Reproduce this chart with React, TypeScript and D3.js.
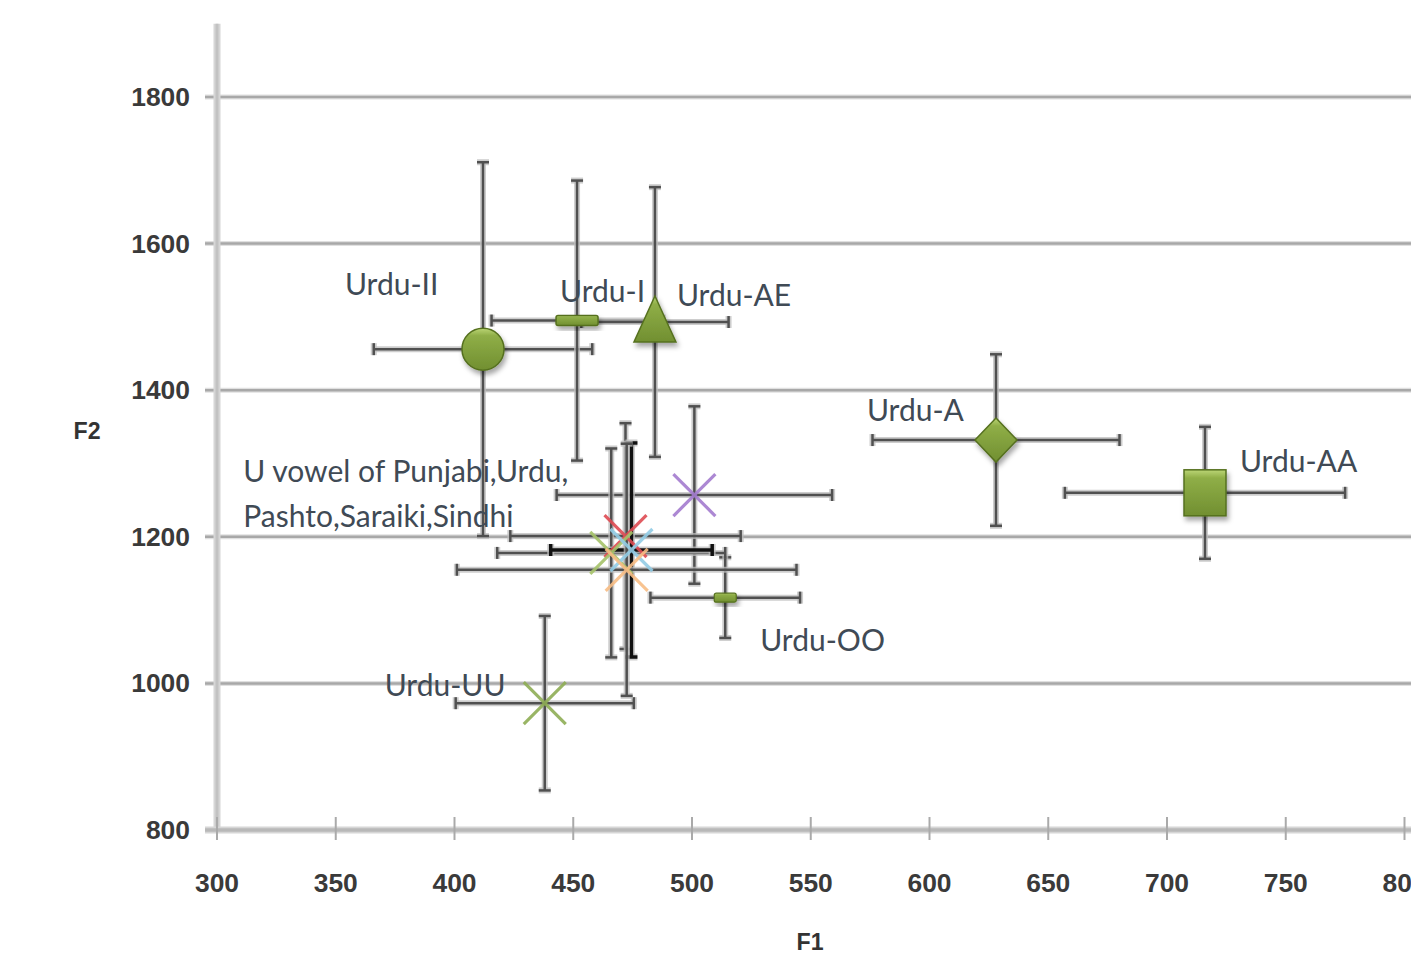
import * as d3 from "d3";

// F1 / F2 means with standard deviations
const seriesIds = ["II", "I", "AE", "A", "AA", "OO", "UU", "purple", "red", "green", "blue", "orange"];
const f1Values = [412, 451.6, 484.4, 628, 716, 514, 438, 501, 472, 466, 474.5, 472.5];
const f2Values = [1456, 1495, 1493, 1332, 1260, 1117, 973, 1257, 1201, 1178, 1182, 1155];
const f1Errors = [46, 36, 31, 52, 59, 31.5, 37.5, 58, 48.5, 48, 34, 71.5];
const f2Errors = [255, 191, 184, 117, 90, 55, 119, 121, 154, 142.5, 146, 172];
const pointLabels = ["Urdu-II", "Urdu-I", "Urdu-AE", "Urdu-A", "Urdu-AA", "Urdu-OO", "Urdu-UU", "", "", "", "", ""];

const clusterLabel = ["U vowel of Punjabi,Urdu,", "Pashto,Saraiki,Sindhi"];

const xTicks = [300, 350, 400, 450, 500, 550, 600, 650, 700, 750, 800];
const yTicks = [800, 1000, 1200, 1400, 1600, 1800];

// marker look per series
const styles = {
  II: { shape: "circle", labelDx: -138, labelDy: -54 },
  I: { shape: "dash", labelDx: -17, labelDy: -19 },
  AE: { shape: "triangle", labelDx: 22, labelDy: -16 },
  A: { shape: "diamond", labelDx: -129, labelDy: -19 },
  AA: { shape: "square", labelDx: 35, labelDy: -21 },
  OO: { shape: "smalldash", labelDx: 35, labelDy: 53 },
  UU: { shape: "x", color: "#8fae55", labelDx: -160, labelDy: -7 },
  purple: { shape: "x", color: "#a47bcf" },
  red: { shape: "x", color: "#de4b52" },
  green: { shape: "x", color: "#a6c36a" },
  blue: { shape: "x", color: "#93cde6", barColor: "#111", barWidth: 3.5 },
  orange: { shape: "x", color: "#f8bd85" },
};

const W = 1411;
const H = 954;
const font = "'Liberation Sans', Arial, sans-serif";
const labelFont = "Lato, 'Open Sans', sans-serif";
const digitWidth = 14.7;

const x = d3.scaleLinear().domain([300, 800]).range([217, 1404.5]);
const y = d3.scaleLinear().domain([800, 1900]).range([830, 23.7]);

const Marker = ({ shape, color }) => {
  const fill = "url(#greenGrad)";
  const stroke = "#55701f";
  if (shape === "circle")
    return <circle r={21} fill={fill} stroke={stroke} strokeWidth={1.5} filter="url(#shadow)" />;
  if (shape === "dash")
    return <rect x={-21} y={-5} width={42} height={10} rx={2} fill={fill} stroke={stroke} strokeWidth={1.5} filter="url(#shadow)" />;
  if (shape === "smalldash")
    return <rect x={-11} y={-4.5} width={22} height={9} rx={2} fill={fill} stroke={stroke} strokeWidth={1.2} filter="url(#shadow)" />;
  if (shape === "triangle")
    return <polygon points="0,-26 21,20 -21,20" fill={fill} stroke={stroke} strokeWidth={1.5} filter="url(#shadow)" />;
  if (shape === "diamond")
    return <polygon points="0,-22 21,0 0,22 -21,0" fill={fill} stroke={stroke} strokeWidth={1.5} filter="url(#shadow)" />;
  if (shape === "square")
    return <rect x={-21} y={-23} width={42} height={46} fill={fill} stroke={stroke} strokeWidth={1.5} filter="url(#shadow)" />;
  const s = 21;
  return (
    <g stroke={color} strokeWidth={3.2} opacity={0.9} filter="url(#blur)">
      <line x1={-s} y1={-s} x2={s} y2={s} />
      <line x1={-s} y1={s} x2={s} y2={-s} />
    </g>
  );
};

const ErrorBars = ({ cx, cy, ex, ey, color = "#505050", width = 2.5 }) => {
  const x0 = x(cx - ex), x1 = x(cx + ex);
  const y0 = y(cy + ey), y1 = y(cy - ey);
  const px = x(cx), py = y(cy);
  const segs = [
    [x0, py, x1, py],
    [x0, py - 6, x0, py + 6],
    [x1, py - 6, x1, py + 6],
    [px, y0, px, y1],
    [px - 6, y0, px + 6, y0],
    [px - 6, y1, px + 6, y1],
  ];
  return (
    <g>
      {segs.map((s, i) => (
        <line key={"h" + i} x1={s[0]} y1={s[1]} x2={s[2]} y2={s[3]} stroke="#bdbdbd" strokeWidth={width + 3.5} opacity={0.75} />
      ))}
      {segs.map((s, i) => (
        <line key={"d" + i} x1={s[0]} y1={s[1]} x2={s[2]} y2={s[3]} stroke={color} strokeWidth={width} />
      ))}
    </g>
  );
};

export default function App() {
  const greenIdx = seriesIds.indexOf("green");
  return (
    <div style={{ position: "fixed", left: 0, top: 0, width: W, height: H, background: "#fff", overflow: "hidden" }}>
      <svg width={W} height={H}>
        <defs>
          <linearGradient id="greenGrad" x1="0" y1="0" x2="0" y2="1">
            <stop offset="0" stopColor="#bcd676" />
            <stop offset="0.18" stopColor="#8fae47" />
            <stop offset="1" stopColor="#718f31" />
          </linearGradient>
          <filter id="shadow" x="-50%" y="-50%" width="200%" height="200%">
            <feDropShadow dx={2} dy={4} stdDeviation={2.5} floodColor="#000" floodOpacity={0.35} />
          </filter>
          <filter id="blur" x="-50%" y="-50%" width="200%" height="200%">
            <feGaussianBlur stdDeviation={0.6} />
          </filter>
        </defs>

        {/* grid lines */}
        {yTicks.slice(1).map((t) => (
          <g key={t}>
            <line x1={205} x2={W} y1={y(t)} y2={y(t)} stroke="#e0e0e0" strokeWidth={5} />
            <line x1={205} x2={W} y1={y(t)} y2={y(t)} stroke="#a8a8a8" strokeWidth={2.5} />
          </g>
        ))}

        {/* axes */}
        <line x1={x(300)} x2={x(300)} y1={y(1900)} y2={y(800)} stroke="#d6d6d6" strokeWidth={7} />
        <line x1={x(300)} x2={x(300)} y1={y(1900)} y2={y(800)} stroke="#c2c2c2" strokeWidth={3} />
        <line x1={205} x2={W} y1={y(800)} y2={y(800)} stroke="#d6d6d6" strokeWidth={7} />
        <line x1={205} x2={W} y1={y(800)} y2={y(800)} stroke="#b8b8b8" strokeWidth={3.5} />
        {xTicks.map((t) => (
          <line key={t} x1={x(t)} x2={x(t)} y1={y(800) - 13} y2={y(800) + 10} stroke="#aaa" strokeWidth={2} />
        ))}

        {yTicks.map((t) => (
          <text key={t} x={190} y={y(t)} dy="0.36em" textAnchor="end" fontFamily={font} fontSize={25} fontWeight="bold" fill="#3a3a3a"
            textLength={String(t).length * digitWidth} lengthAdjust="spacingAndGlyphs">
            {t}
          </text>
        ))}
        {xTicks.map((t) => (
          <text key={t} x={x(t)} y={883} dy="0.36em" textAnchor="middle" fontFamily={font} fontSize={25} fontWeight="bold" fill="#3a3a3a"
            textLength={String(t).length * digitWidth} lengthAdjust="spacingAndGlyphs">
            {t}
          </text>
        ))}
        <text x={87} y={430} dy="0.36em" textAnchor="middle" fontFamily={font} fontSize={24} fontWeight="bold" fill="#333"
          textLength={27} lengthAdjust="spacingAndGlyphs">F2</text>
        <text x={810} y={941} dy="0.36em" textAnchor="middle" fontFamily={font} fontSize={24} fontWeight="bold" fill="#333"
          textLength={27} lengthAdjust="spacingAndGlyphs">F1</text>

        {/* error bars */}
        {seriesIds.map((id, i) => (
          <ErrorBars
            key={id}
            cx={f1Values[i]}
            cy={f2Values[i]}
            ex={f1Errors[i]}
            ey={f2Errors[i]}
            color={styles[id].barColor}
            width={styles[id].barWidth}
          />
        ))}

        {/* markers */}
        {seriesIds.map((id, i) => (
          <g key={id} transform={`translate(${x(f1Values[i])},${y(f2Values[i])})`}>
            <Marker shape={styles[id].shape} color={styles[id].color} />
          </g>
        ))}

        {/* labels */}
        {seriesIds.map((id, i) =>
          pointLabels[i] ? (
            <text
              key={id}
              x={x(f1Values[i]) + styles[id].labelDx}
              y={y(f2Values[i]) + styles[id].labelDy}
              fontFamily={labelFont}
              fontSize={30}
              fill="#404a55"
            >
              {pointLabels[i]}
            </text>
          ) : null
        )}
        {clusterLabel.map((line, k) => (
          <text
            key={k}
            x={x(f1Values[greenIdx]) - 368}
            y={y(f2Values[greenIdx]) - 71 + k * 45}
            fontFamily={labelFont}
            fontSize={30}
            fill="#404a55"
          >
            {line}
          </text>
        ))}
      </svg>
    </div>
  );
}
